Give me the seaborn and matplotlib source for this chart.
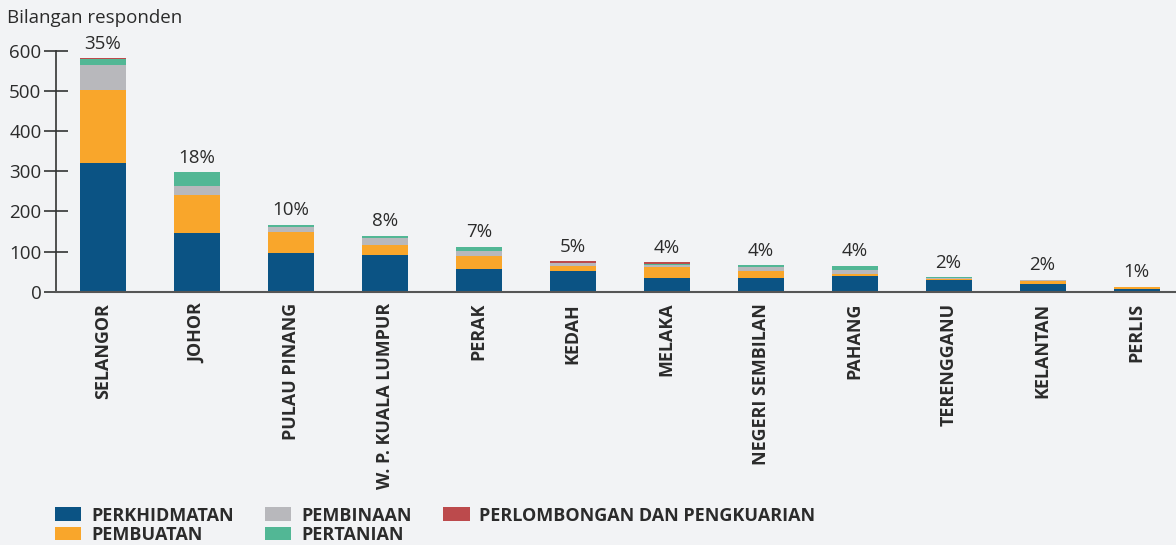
import matplotlib.pyplot as plt
import numpy as np
import pandas as pd
import seaborn as sns
from matplotlib.patches import Patch

states = ["SELANGOR", "JOHOR", "PULAU PINANG", "W. P. KUALA LUMPUR", "PERAK", "KEDAH",
          "MELAKA", "NEGERI SEMBILAN", "PAHANG", "TERENGGANU", "KELANTAN", "PERLIS"]
perkhidmatan = [320, 146, 97, 92, 57, 52, 34, 34, 39, 29, 19, 7]
pembuatan = [182, 95, 53, 24, 33, 12, 28, 17, 6, 2, 7, 4]
pembinaan = [62, 23, 11, 18, 12, 7, 5, 10, 9, 3, 3, 1]
pertanian = [15, 34, 5, 5, 10, 1, 3, 5, 10, 2, 0, 0]
perlombongan = [3, 0, 0, 0, 0, 4, 3, 0, 0, 0, 0, 0]
percent_labels = ["35%", "18%", "10%", "8%", "7%", "5%", "4%", "4%", "4%", "2%", "2%", "1%"]

sectors = ["PERKHIDMATAN", "PEMBUATAN", "PEMBINAAN", "PERTANIAN", "PERLOMBONGAN DAN PENGKUARIAN"]
colors = ["#0b5384", "#f9a62b", "#b8b8bc", "#52b795", "#bc4a4c"]
bg = "#f2f3f5"
text_color = "#2b2b2b"

df = pd.DataFrame({
    "state": states,
    "PERKHIDMATAN": perkhidmatan,
    "PEMBUATAN": pembuatan,
    "PEMBINAAN": pembinaan,
    "PERTANIAN": pertanian,
    "PERLOMBONGAN DAN PENGKUARIAN": perlombongan,
})
cum = df[sectors].cumsum(axis=1)

sns.set_theme(style="white")
plt.rcParams["font.family"] = ["Open Sans", "DejaVu Sans"]

fig = plt.figure(figsize=(11.76, 5.45), dpi=100, facecolor=bg)
ax = fig.add_axes([56 / 1176, (545 - 291.7) / 545, (1176 - 56) / 1176, (291.7 - 51) / 545])
ax.set_facecolor(bg)

# draw cumulative totals from the top layer down so lower layers cover upper ones
for sector, color in zip(sectors[::-1], colors[::-1]):
    sns.barplot(x=df["state"], y=cum[sector], color=color, saturation=1,
                width=0.49, ax=ax, linewidth=0)

totals = cum[sectors[-1]]
for i, (t, lab) in enumerate(zip(totals, percent_labels)):
    ax.text(i, t + 14, lab, ha="center", va="bottom", fontsize=13.5,
            color=text_color, clip_on=False)

ax.set_xlim(-0.5, 11.42)
ax.set_ylim(0, 600)
ax.set_yticks(np.arange(0, 601, 100))
ax.set_xlabel("")
ax.set_ylabel("")
ax.tick_params(axis="y", direction="inout", length=17, width=1.2, color="#333333",
               labelsize=13.5, labelcolor=text_color, pad=2, left=True)
ax.tick_params(axis="x", length=0, labelsize=12.9, labelcolor=text_color, pad=8)
for lbl in ax.get_xticklabels():
    lbl.set_rotation(90)
    lbl.set_fontweight("bold")
for side in ["top", "right"]:
    ax.spines[side].set_visible(False)
ax.spines["left"].set_color("#333333")
ax.spines["left"].set_linewidth(1.2)
ax.spines["bottom"].set_color("#555555")
ax.spines["bottom"].set_linewidth(1.5)

fig.text(7 / 1176, 1 - 18 / 545, "Bilangan responden", fontsize=13.5,
         color=text_color, va="center", ha="left")

handles = [Patch(facecolor=c, edgecolor="none", label=s) for s, c in zip(sectors, colors)]
leg = fig.legend(handles=handles, ncol=3, loc="lower left", bbox_to_anchor=(44 / 1176, -0.018),
                 frameon=False, prop={"weight": "bold", "size": 13},
                 handlelength=1.45, handleheight=0.78, handletextpad=0.55,
                 columnspacing=1.75, labelspacing=0.08, borderaxespad=0.2)
for t in leg.get_texts():
    t.set_color(text_color)

fig.savefig("out.png", dpi=100, facecolor=bg)
